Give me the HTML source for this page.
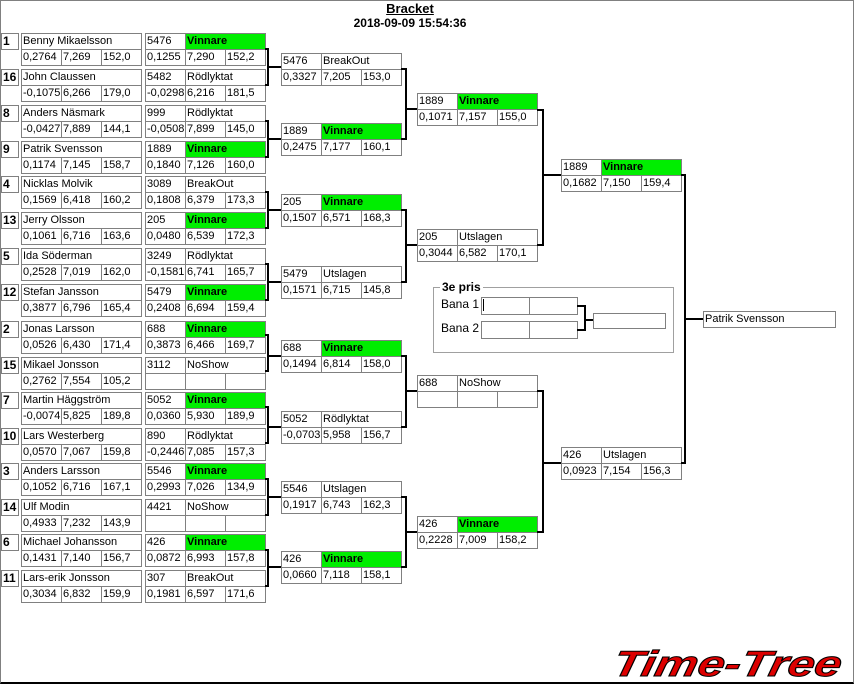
<!DOCTYPE html>
<html><head><meta charset="utf-8"><style>
body{margin:0;width:854px;height:684px;position:relative;overflow:hidden;background:#fff;font-family:"Liberation Sans",Arial,sans-serif;font-size:11px;color:#000}
.frame{position:absolute;left:0;top:0;width:852px;height:681px;border:1px solid #808080;border-bottom:2px solid #000}
.c{position:absolute;box-sizing:border-box;height:17px;border:1px solid #808080;padding-left:1px;line-height:15px;white-space:nowrap;overflow:hidden;background:#fff}
.w{background:#00ee00;font-weight:bold}
.s{position:absolute;box-sizing:border-box;width:18px;height:17px;border:1px solid #808080;font-weight:bold;font-size:12px;line-height:15px;padding-left:1px;left:1px}
.t{position:absolute;font-weight:bold;font-size:12px;text-align:center;width:200px;left:310px}
</style></head><body>
<div class="frame"></div>
<div class="t" style="top:1px;text-decoration:underline;font-size:13px">Bracket</div>
<div class="t" style="top:16px">2018-09-09 15:54:36</div>

<!-- Round 1 -->
<div class="s" style="top:33px">1</div>
<div class="c" style="left:21px;top:33px;width:121px">Benny Mikaelsson</div>
<div class="c" style="left:21px;top:49px;width:41px">0,2764</div><div class="c" style="left:61px;top:49px;width:41px">7,269</div><div class="c" style="left:101px;top:49px;width:41px">152,0</div>
<div class="c" style="left:145px;top:33px;width:41px">5476</div><div class="c w" style="left:185px;top:33px;width:81px">Vinnare</div>
<div class="c" style="left:145px;top:49px;width:41px">0,1255</div><div class="c" style="left:185px;top:49px;width:41px">7,290</div><div class="c" style="left:225px;top:49px;width:41px">152,2</div>

<div class="s" style="top:69px">16</div>
<div class="c" style="left:21px;top:69px;width:121px">John Claussen</div>
<div class="c" style="left:21px;top:85px;width:41px">-0,1075</div><div class="c" style="left:61px;top:85px;width:41px">6,266</div><div class="c" style="left:101px;top:85px;width:41px">179,0</div>
<div class="c" style="left:145px;top:69px;width:41px">5482</div><div class="c" style="left:185px;top:69px;width:81px">Rödlyktat</div>
<div class="c" style="left:145px;top:85px;width:41px">-0,0298</div><div class="c" style="left:185px;top:85px;width:41px">6,216</div><div class="c" style="left:225px;top:85px;width:41px">181,5</div>

<div class="s" style="top:105px">8</div>
<div class="c" style="left:21px;top:105px;width:121px">Anders Näsmark</div>
<div class="c" style="left:21px;top:121px;width:41px">-0,0427</div><div class="c" style="left:61px;top:121px;width:41px">7,889</div><div class="c" style="left:101px;top:121px;width:41px">144,1</div>
<div class="c" style="left:145px;top:105px;width:41px">999</div><div class="c" style="left:185px;top:105px;width:81px">Rödlyktat</div>
<div class="c" style="left:145px;top:121px;width:41px">-0,0508</div><div class="c" style="left:185px;top:121px;width:41px">7,899</div><div class="c" style="left:225px;top:121px;width:41px">145,0</div>

<div class="s" style="top:141px">9</div>
<div class="c" style="left:21px;top:141px;width:121px">Patrik Svensson</div>
<div class="c" style="left:21px;top:157px;width:41px">0,1174</div><div class="c" style="left:61px;top:157px;width:41px">7,145</div><div class="c" style="left:101px;top:157px;width:41px">158,7</div>
<div class="c" style="left:145px;top:141px;width:41px">1889</div><div class="c w" style="left:185px;top:141px;width:81px">Vinnare</div>
<div class="c" style="left:145px;top:157px;width:41px">0,1840</div><div class="c" style="left:185px;top:157px;width:41px">7,126</div><div class="c" style="left:225px;top:157px;width:41px">160,0</div>

<div class="s" style="top:176px">4</div>
<div class="c" style="left:21px;top:176px;width:121px">Nicklas Molvik</div>
<div class="c" style="left:21px;top:192px;width:41px">0,1569</div><div class="c" style="left:61px;top:192px;width:41px">6,418</div><div class="c" style="left:101px;top:192px;width:41px">160,2</div>
<div class="c" style="left:145px;top:176px;width:41px">3089</div><div class="c" style="left:185px;top:176px;width:81px">BreakOut</div>
<div class="c" style="left:145px;top:192px;width:41px">0,1808</div><div class="c" style="left:185px;top:192px;width:41px">6,379</div><div class="c" style="left:225px;top:192px;width:41px">173,3</div>

<div class="s" style="top:212px">13</div>
<div class="c" style="left:21px;top:212px;width:121px">Jerry Olsson</div>
<div class="c" style="left:21px;top:228px;width:41px">0,1061</div><div class="c" style="left:61px;top:228px;width:41px">6,716</div><div class="c" style="left:101px;top:228px;width:41px">163,6</div>
<div class="c" style="left:145px;top:212px;width:41px">205</div><div class="c w" style="left:185px;top:212px;width:81px">Vinnare</div>
<div class="c" style="left:145px;top:228px;width:41px">0,0480</div><div class="c" style="left:185px;top:228px;width:41px">6,539</div><div class="c" style="left:225px;top:228px;width:41px">172,3</div>

<div class="s" style="top:248px">5</div>
<div class="c" style="left:21px;top:248px;width:121px">Ida Söderman</div>
<div class="c" style="left:21px;top:264px;width:41px">0,2528</div><div class="c" style="left:61px;top:264px;width:41px">7,019</div><div class="c" style="left:101px;top:264px;width:41px">162,0</div>
<div class="c" style="left:145px;top:248px;width:41px">3249</div><div class="c" style="left:185px;top:248px;width:81px">Rödlyktat</div>
<div class="c" style="left:145px;top:264px;width:41px">-0,1581</div><div class="c" style="left:185px;top:264px;width:41px">6,741</div><div class="c" style="left:225px;top:264px;width:41px">165,7</div>

<div class="s" style="top:284px">12</div>
<div class="c" style="left:21px;top:284px;width:121px">Stefan Jansson</div>
<div class="c" style="left:21px;top:300px;width:41px">0,3877</div><div class="c" style="left:61px;top:300px;width:41px">6,796</div><div class="c" style="left:101px;top:300px;width:41px">165,4</div>
<div class="c" style="left:145px;top:284px;width:41px">5479</div><div class="c w" style="left:185px;top:284px;width:81px">Vinnare</div>
<div class="c" style="left:145px;top:300px;width:41px">0,2408</div><div class="c" style="left:185px;top:300px;width:41px">6,694</div><div class="c" style="left:225px;top:300px;width:41px">159,4</div>

<div class="s" style="top:321px">2</div>
<div class="c" style="left:21px;top:321px;width:121px">Jonas Larsson</div>
<div class="c" style="left:21px;top:337px;width:41px">0,0526</div><div class="c" style="left:61px;top:337px;width:41px">6,430</div><div class="c" style="left:101px;top:337px;width:41px">171,4</div>
<div class="c" style="left:145px;top:321px;width:41px">688</div><div class="c w" style="left:185px;top:321px;width:81px">Vinnare</div>
<div class="c" style="left:145px;top:337px;width:41px">0,3873</div><div class="c" style="left:185px;top:337px;width:41px">6,466</div><div class="c" style="left:225px;top:337px;width:41px">169,7</div>

<div class="s" style="top:357px">15</div>
<div class="c" style="left:21px;top:357px;width:121px">Mikael Jonsson</div>
<div class="c" style="left:21px;top:373px;width:41px">0,2762</div><div class="c" style="left:61px;top:373px;width:41px">7,554</div><div class="c" style="left:101px;top:373px;width:41px">105,2</div>
<div class="c" style="left:145px;top:357px;width:41px">3112</div><div class="c" style="left:185px;top:357px;width:81px">NoShow</div>
<div class="c" style="left:145px;top:373px;width:41px"></div><div class="c" style="left:185px;top:373px;width:41px"></div><div class="c" style="left:225px;top:373px;width:41px"></div>

<div class="s" style="top:392px">7</div>
<div class="c" style="left:21px;top:392px;width:121px">Martin Häggström</div>
<div class="c" style="left:21px;top:408px;width:41px">-0,0074</div><div class="c" style="left:61px;top:408px;width:41px">5,825</div><div class="c" style="left:101px;top:408px;width:41px">189,8</div>
<div class="c" style="left:145px;top:392px;width:41px">5052</div><div class="c w" style="left:185px;top:392px;width:81px">Vinnare</div>
<div class="c" style="left:145px;top:408px;width:41px">0,0360</div><div class="c" style="left:185px;top:408px;width:41px">5,930</div><div class="c" style="left:225px;top:408px;width:41px">189,9</div>

<div class="s" style="top:428px">10</div>
<div class="c" style="left:21px;top:428px;width:121px">Lars Westerberg</div>
<div class="c" style="left:21px;top:444px;width:41px">0,0570</div><div class="c" style="left:61px;top:444px;width:41px">7,067</div><div class="c" style="left:101px;top:444px;width:41px">159,8</div>
<div class="c" style="left:145px;top:428px;width:41px">890</div><div class="c" style="left:185px;top:428px;width:81px">Rödlyktat</div>
<div class="c" style="left:145px;top:444px;width:41px">-0,2446</div><div class="c" style="left:185px;top:444px;width:41px">7,085</div><div class="c" style="left:225px;top:444px;width:41px">157,3</div>

<div class="s" style="top:463px">3</div>
<div class="c" style="left:21px;top:463px;width:121px">Anders Larsson</div>
<div class="c" style="left:21px;top:479px;width:41px">0,1052</div><div class="c" style="left:61px;top:479px;width:41px">6,716</div><div class="c" style="left:101px;top:479px;width:41px">167,1</div>
<div class="c" style="left:145px;top:463px;width:41px">5546</div><div class="c w" style="left:185px;top:463px;width:81px">Vinnare</div>
<div class="c" style="left:145px;top:479px;width:41px">0,2993</div><div class="c" style="left:185px;top:479px;width:41px">7,026</div><div class="c" style="left:225px;top:479px;width:41px">134,9</div>

<div class="s" style="top:499px">14</div>
<div class="c" style="left:21px;top:499px;width:121px">Ulf Modin</div>
<div class="c" style="left:21px;top:515px;width:41px">0,4933</div><div class="c" style="left:61px;top:515px;width:41px">7,232</div><div class="c" style="left:101px;top:515px;width:41px">143,9</div>
<div class="c" style="left:145px;top:499px;width:41px">4421</div><div class="c" style="left:185px;top:499px;width:81px">NoShow</div>
<div class="c" style="left:145px;top:515px;width:41px"></div><div class="c" style="left:185px;top:515px;width:41px"></div><div class="c" style="left:225px;top:515px;width:41px"></div>

<div class="s" style="top:534px">6</div>
<div class="c" style="left:21px;top:534px;width:121px">Michael Johansson</div>
<div class="c" style="left:21px;top:550px;width:41px">0,1431</div><div class="c" style="left:61px;top:550px;width:41px">7,140</div><div class="c" style="left:101px;top:550px;width:41px">156,7</div>
<div class="c" style="left:145px;top:534px;width:41px">426</div><div class="c w" style="left:185px;top:534px;width:81px">Vinnare</div>
<div class="c" style="left:145px;top:550px;width:41px">0,0872</div><div class="c" style="left:185px;top:550px;width:41px">6,993</div><div class="c" style="left:225px;top:550px;width:41px">157,8</div>

<div class="s" style="top:570px">11</div>
<div class="c" style="left:21px;top:570px;width:121px">Lars-erik Jonsson</div>
<div class="c" style="left:21px;top:586px;width:41px">0,3034</div><div class="c" style="left:61px;top:586px;width:41px">6,832</div><div class="c" style="left:101px;top:586px;width:41px">159,9</div>
<div class="c" style="left:145px;top:570px;width:41px">307</div><div class="c" style="left:185px;top:570px;width:81px">BreakOut</div>
<div class="c" style="left:145px;top:586px;width:41px">0,1981</div><div class="c" style="left:185px;top:586px;width:41px">6,597</div><div class="c" style="left:225px;top:586px;width:41px">171,6</div>

<!-- Round 2 -->
<div class="c" style="left:281px;top:53px;width:41px">5476</div><div class="c" style="left:321px;top:53px;width:81px">BreakOut</div>
<div class="c" style="left:281px;top:69px;width:41px">0,3327</div><div class="c" style="left:321px;top:69px;width:41px">7,205</div><div class="c" style="left:361px;top:69px;width:41px">153,0</div>
<div class="c" style="left:281px;top:123px;width:41px">1889</div><div class="c w" style="left:321px;top:123px;width:81px">Vinnare</div>
<div class="c" style="left:281px;top:139px;width:41px">0,2475</div><div class="c" style="left:321px;top:139px;width:41px">7,177</div><div class="c" style="left:361px;top:139px;width:41px">160,1</div>
<div class="c" style="left:281px;top:194px;width:41px">205</div><div class="c w" style="left:321px;top:194px;width:81px">Vinnare</div>
<div class="c" style="left:281px;top:210px;width:41px">0,1507</div><div class="c" style="left:321px;top:210px;width:41px">6,571</div><div class="c" style="left:361px;top:210px;width:41px">168,3</div>
<div class="c" style="left:281px;top:266px;width:41px">5479</div><div class="c" style="left:321px;top:266px;width:81px">Utslagen</div>
<div class="c" style="left:281px;top:282px;width:41px">0,1571</div><div class="c" style="left:321px;top:282px;width:41px">6,715</div><div class="c" style="left:361px;top:282px;width:41px">145,8</div>
<div class="c" style="left:281px;top:340px;width:41px">688</div><div class="c w" style="left:321px;top:340px;width:81px">Vinnare</div>
<div class="c" style="left:281px;top:356px;width:41px">0,1494</div><div class="c" style="left:321px;top:356px;width:41px">6,814</div><div class="c" style="left:361px;top:356px;width:41px">158,0</div>
<div class="c" style="left:281px;top:411px;width:41px">5052</div><div class="c" style="left:321px;top:411px;width:81px">Rödlyktat</div>
<div class="c" style="left:281px;top:427px;width:41px">-0,0703</div><div class="c" style="left:321px;top:427px;width:41px">5,958</div><div class="c" style="left:361px;top:427px;width:41px">156,7</div>
<div class="c" style="left:281px;top:481px;width:41px">5546</div><div class="c" style="left:321px;top:481px;width:81px">Utslagen</div>
<div class="c" style="left:281px;top:497px;width:41px">0,1917</div><div class="c" style="left:321px;top:497px;width:41px">6,743</div><div class="c" style="left:361px;top:497px;width:41px">162,3</div>
<div class="c" style="left:281px;top:551px;width:41px">426</div><div class="c w" style="left:321px;top:551px;width:81px">Vinnare</div>
<div class="c" style="left:281px;top:567px;width:41px">0,0660</div><div class="c" style="left:321px;top:567px;width:41px">7,118</div><div class="c" style="left:361px;top:567px;width:41px">158,1</div>

<!-- Round 3 -->
<div class="c" style="left:417px;top:93px;width:41px">1889</div><div class="c w" style="left:457px;top:93px;width:81px">Vinnare</div>
<div class="c" style="left:417px;top:109px;width:41px">0,1071</div><div class="c" style="left:457px;top:109px;width:41px">7,157</div><div class="c" style="left:497px;top:109px;width:41px">155,0</div>
<div class="c" style="left:417px;top:229px;width:41px">205</div><div class="c" style="left:457px;top:229px;width:81px">Utslagen</div>
<div class="c" style="left:417px;top:245px;width:41px">0,3044</div><div class="c" style="left:457px;top:245px;width:41px">6,582</div><div class="c" style="left:497px;top:245px;width:41px">170,1</div>
<div class="c" style="left:417px;top:375px;width:41px">688</div><div class="c" style="left:457px;top:375px;width:81px">NoShow</div>
<div class="c" style="left:417px;top:391px;width:41px"></div><div class="c" style="left:457px;top:391px;width:41px"></div><div class="c" style="left:497px;top:391px;width:41px"></div>
<div class="c" style="left:417px;top:516px;width:41px">426</div><div class="c w" style="left:457px;top:516px;width:81px">Vinnare</div>
<div class="c" style="left:417px;top:532px;width:41px">0,2228</div><div class="c" style="left:457px;top:532px;width:41px">7,009</div><div class="c" style="left:497px;top:532px;width:41px">158,2</div>

<!-- Round 4 -->
<div class="c" style="left:561px;top:159px;width:41px">1889</div><div class="c w" style="left:601px;top:159px;width:81px">Vinnare</div>
<div class="c" style="left:561px;top:175px;width:41px">0,1682</div><div class="c" style="left:601px;top:175px;width:41px">7,150</div><div class="c" style="left:641px;top:175px;width:41px">159,4</div>
<div class="c" style="left:561px;top:447px;width:41px">426</div><div class="c" style="left:601px;top:447px;width:81px">Utslagen</div>
<div class="c" style="left:561px;top:463px;width:41px">0,0923</div><div class="c" style="left:601px;top:463px;width:41px">7,154</div><div class="c" style="left:641px;top:463px;width:41px">156,3</div>

<div class="c" style="left:703px;top:311px;width:133px">Patrik Svensson</div>

<!-- 3e pris -->
<div style="position:absolute;left:433px;top:287px;width:239px;height:64px;border:1px solid #a0a0a0"></div>
<div style="position:absolute;left:440px;top:280px;padding:0 2px;background:#fff;font-weight:bold;font-size:12px;line-height:15px">3e pris</div>
<div style="position:absolute;left:441px;top:297px;line-height:14px;font-size:12px">Bana 1</div>
<div style="position:absolute;left:441px;top:321px;line-height:14px;font-size:12px">Bana 2</div>
<div class="c" style="left:481px;top:297px;width:49px;height:18px"><span style="display:inline-block;width:1px;height:12px;background:#000;margin-top:1px"></span></div><div class="c" style="left:529px;top:297px;width:49px;height:18px"></div>
<div class="c" style="left:481px;top:321px;width:49px;height:18px"></div><div class="c" style="left:529px;top:321px;width:49px;height:18px"></div>
<div class="c" style="left:593px;top:313px;width:73px;height:16px"></div>

<svg style="position:absolute;left:0;top:0" width="854" height="684">
<g fill="none" stroke="#000" stroke-width="2">
<path d="M265 49H268V85H265M268 67H281"/>
<path d="M265 121H268V157H265M268 139H281"/>
<path d="M265 192H268V228H265M268 210H281"/>
<path d="M265 264H268V300H265M268 282H281"/>
<path d="M265 335H268V371H265M268 356H281"/>
<path d="M265 407H268V443H265M268 427H281"/>
<path d="M265 479H268V515H265M268 497H281"/>
<path d="M265 550H268V586H265M268 567H281"/>
<path d="M401 69H406V139H401M406 109H417"/>
<path d="M401 210H406V282H401M406 245H417"/>
<path d="M401 356H406V427H401M406 391H417"/>
<path d="M401 497H406V567H401M406 532H417"/>
<path d="M537 110H543V245H537M543 175H561"/>
<path d="M537 391H543V532H537M543 463H561"/>
<path d="M681 175H685V463H681M685 319H703"/>
<path d="M577 306H585V330H577M585 320H593"/>
</g>
<text x="840" y="676" text-anchor="end" font-family="Liberation Sans, sans-serif" font-weight="bold" font-style="italic" font-size="36" fill="#dd0000" stroke="#000" stroke-width="1" textLength="228" lengthAdjust="spacingAndGlyphs" transform="skewX(-12) translate(143,0)">Time-Tree</text>
</svg>
</body></html>
